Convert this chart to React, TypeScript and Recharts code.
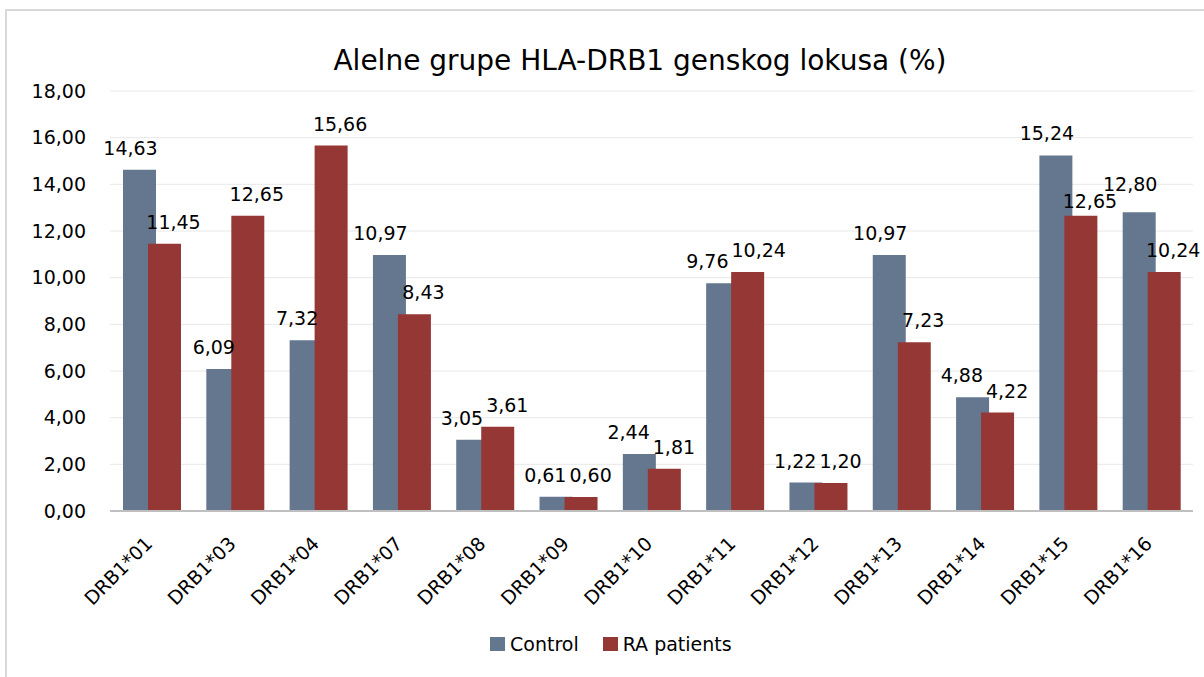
import React from "react"
import { BarChart, Bar, XAxis, YAxis, CartesianGrid, LabelList } from "recharts"

const categories = [
  "DRB1*01", "DRB1*03", "DRB1*04", "DRB1*07", "DRB1*08", "DRB1*09", "DRB1*10",
  "DRB1*11", "DRB1*12", "DRB1*13", "DRB1*14", "DRB1*15", "DRB1*16",
]
const control = [14.63, 6.09, 7.32, 10.97, 3.05, 0.61, 2.44, 9.76, 1.22, 10.97, 4.88, 15.24, 12.8]
const raPatients = [11.45, 12.65, 15.66, 8.43, 3.61, 0.6, 1.81, 10.24, 1.2, 7.23, 4.22, 12.65, 10.24]
const yTicks = [0, 2, 4, 6, 8, 10, 12, 14, 16, 18]

const BLUE = "#64778f"
const RED = "#953735"
const FONT = "'DejaVu Sans', sans-serif"
const LABEL_SIZE = 19

const CHART_W = 1204
const MARGIN_RIGHT = 11
const AXIS_W = 110
const BAR_SIZE = 33
const BAR_GAP = -8
const BAND = (CHART_W - AXIS_W - MARGIN_RIGHT) / categories.length

const data = categories.map((name, i) => ({ name, control: control[i], ra: raPatients[i] }))

const fmt = (v: any) => Number(v).toFixed(2).replace(".", ",")
const textW = (v: number) => fmt(v).length * 0.636 * LABEL_SIZE - 0.318 * LABEL_SIZE

function XTick(props: any) {
  const { x, y, payload } = props
  const ax = x + 2
  const ay = y + 26
  return (
    <text
      x={ax}
      y={ay}
      transform={`rotate(-45, ${ax}, ${ay})`}
      textAnchor="end"
      fontFamily={FONT}
      fontSize={19}
      fill="#000"
    >
      {payload.value}
    </text>
  )
}

// value labels: nudged apart a bit when they would run into each other, like Excel does
const LIFT = 15
const SIDE = 9
const STEP = BAR_SIZE + BAR_GAP

function placeLabel(series: "control" | "ra", index: number, ppu: number) {
  let dx = series === "control" ? -SIDE : SIDE
  let dy = 0
  const c = control[index]
  const r = raPatients[index]
  // same category pair
  if (Math.abs((c - r) * ppu) < 17) {
    const over = (textW(c) + textW(r)) / 2 + 3 - (STEP + 2 * SIDE)
    if (over > 0) dx += series === "control" ? -over * 0.75 : over * 0.25
  }
  // RA label of this category vs control label of the next one
  const pairs: [number, number][] = []
  if (series === "ra" && index + 1 < control.length) pairs.push([r, control[index + 1]])
  if (series === "control" && index > 0) pairs.push([c, raPatients[index - 1]])
  for (const [mine, other] of pairs) {
    const gapX = BAND - STEP - 2 * SIDE
    const vdiff = (mine - other) * ppu
    if ((textW(mine) + textW(other)) / 2 + 3 > gapX && Math.abs(vdiff) < 17) {
      const push = (17 - Math.abs(vdiff)) / 2
      dy += mine >= other ? -push : push
    }
  }
  return { dx, dy }
}

const makeLabel = (series: "control" | "ra") => (props: any) => {
  const { x, y, width, height, value, index } = props
  const ppu = Number(height) / Number(value)
  const { dx, dy } = placeLabel(series, index, ppu)
  return (
    <text
      x={x + width / 2 + dx}
      y={y - LIFT + dy}
      textAnchor="middle"
      fontFamily={FONT}
      fontSize={LABEL_SIZE}
      fill="#000"
    >
      {fmt(value)}
    </text>
  )
}

function LegendBox() {
  const item = (color: string, label: string, gap: number) => (
    <span style={{ display: "inline-flex", alignItems: "center", marginRight: gap }}>
      <span style={{ width: 15, height: 14, background: color, display: "inline-block", marginRight: 5 }} />
      <span>{label}</span>
    </span>
  )
  return (
    <div
      style={{
        position: "absolute",
        left: 490,
        top: 633,
        fontFamily: FONT,
        fontSize: 19,
        color: "#000",
        display: "flex",
        alignItems: "center",
      }}
    >
      {item(BLUE, "Control", 24)}
      {item(RED, "RA patients", 0)}
    </div>
  )
}

export default function App() {
  return (
    <div style={{ position: "absolute", left: 0, top: 0, width: 1204, height: 677, overflow: "hidden", background: "#fff" }}>
      <div
        style={{
          position: "absolute",
          left: 5,
          top: 9,
          width: 1220,
          height: 700,
          border: "2px solid #d9d9d9",
        }}
      />
      <div
        style={{
          position: "absolute",
          left: 0,
          width: 1280,
          top: 44,
          textAlign: "center",
          fontFamily: FONT,
          fontSize: 28,
          color: "#000",
        }}
      >
        Alelne grupe HLA-DRB1 genskog lokusa (%)
      </div>
      <div style={{ position: "absolute", left: 0, top: 0 }}>
        <BarChart
          width={CHART_W}
          height={677}
          data={data}
          margin={{ top: 91, right: MARGIN_RIGHT, left: 0, bottom: 0 }}
          barSize={BAR_SIZE}
          barGap={BAR_GAP}
        >
          <CartesianGrid vertical={false} stroke="#e8e8e8" />
          <YAxis
            width={AXIS_W}
            domain={[0, 18]}
            ticks={yTicks}
            tickFormatter={fmt}
            axisLine={false}
            tickLine={false}
            tickSize={0}
            tickMargin={24}
            tick={{ fontFamily: FONT, fontSize: 19, fill: "#000" }}
          />
          <XAxis
            dataKey="name"
            interval={0}
            tickLine={false}
            axisLine={{ stroke: "#bfbfbf", strokeWidth: 2 }}
            tick={<XTick />}
            height={166}
          />
          <Bar dataKey="control" name="Control" fill={BLUE} isAnimationActive={false}>
            <LabelList dataKey="control" content={makeLabel("control")} />
          </Bar>
          <Bar dataKey="ra" name="RA patients" fill={RED} isAnimationActive={false}>
            <LabelList dataKey="ra" content={makeLabel("ra")} />
          </Bar>
        </BarChart>
      </div>
      <LegendBox />
    </div>
  )
}
